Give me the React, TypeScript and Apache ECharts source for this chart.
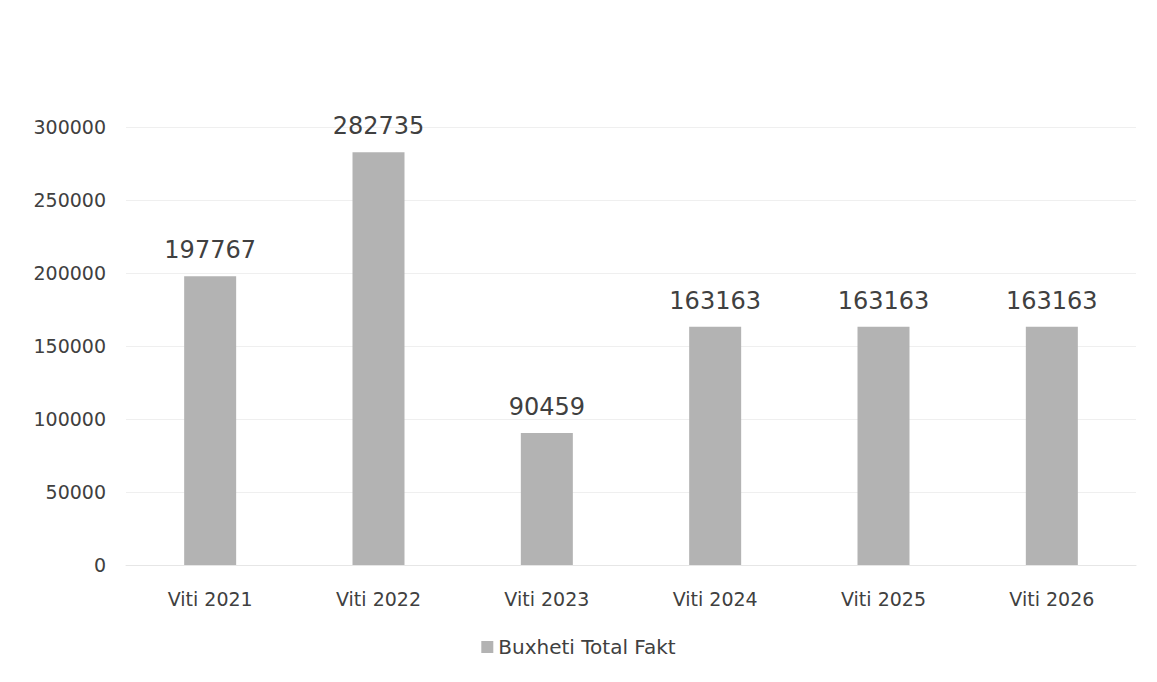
import React, { useEffect, useRef } from "react";
import * as echarts from "echarts";

const categories = ["Viti 2021", "Viti 2022", "Viti 2023", "Viti 2024", "Viti 2025", "Viti 2026"];
const values = [197767, 282735, 90459, 163163, 163163, 163163];
const seriesName = "Buxheti Total Fakt";

export default function App() {
  const ref = useRef<HTMLDivElement>(null);
  useEffect(() => {
    const chart = echarts.init(ref.current!, null, { renderer: "svg" });
    const font = "'DejaVu Sans', sans-serif";
    chart.setOption({
      animation: false,
      textStyle: { fontFamily: font },
      grid: { left: 118, right: 13, top: 119, bottom: 109 },
      legend: {
        bottom: 12,
        left: "center",
        itemWidth: 12,
        itemHeight: 12,
        itemGap: 6,
        icon: "rect",
        textStyle: { fontSize: 20, color: "#404040", fontFamily: font },
        data: [seriesName],
      },
      xAxis: {
        type: "category",
        data: categories,
        axisLine: { lineStyle: { color: "#e6e6e6" } },
        axisTick: { show: false },
        axisLabel: { fontSize: 19, color: "#404040", margin: 24, fontFamily: font },
      },
      yAxis: {
        type: "value",
        min: 0,
        max: 300000,
        interval: 50000,
        axisLine: { show: false },
        axisTick: { show: false },
        splitLine: { lineStyle: { color: "#efefef" } },
        axisLabel: {
          fontSize: 19,
          color: "#404040",
          margin: 20,
          fontFamily: font,
          formatter: (v: number) => String(v),
        },
      },
      series: [
        {
          name: seriesName,
          type: "bar",
          data: values,
          barWidth: 52,
          itemStyle: { color: "#b3b3b3" },
          label: {
            show: true,
            position: "top",
            distance: 14,
            fontSize: 24,
            color: "#404040",
            fontFamily: font,
          },
        },
      ],
    });
    return () => chart.dispose();
  }, []);
  return <div ref={ref} style={{ width: 1141, height: 666 }} />;
}
